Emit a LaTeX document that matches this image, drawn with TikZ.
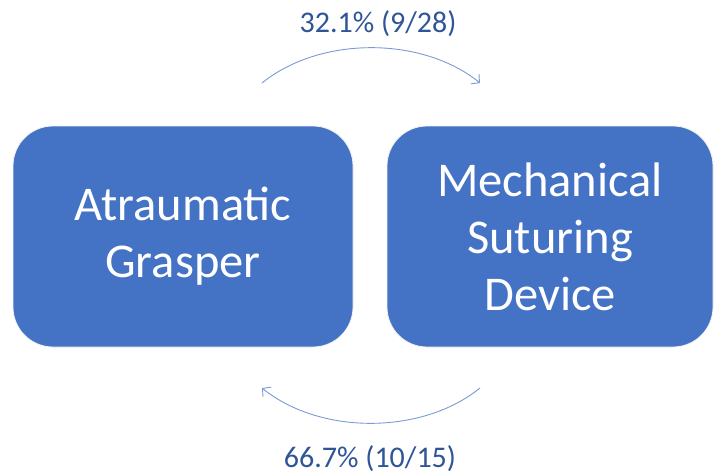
\documentclass[tikz,border=0pt]{standalone}
\usepackage{fontspec}
\setmainfont{Carlito}
\usetikzlibrary{arrows.meta}
\definecolor{boxblue}{HTML}{4472C4}
\definecolor{labelblue}{HTML}{2F5597}
\definecolor{arcblue}{HTML}{7A9AD6}
\begin{document}
\begin{tikzpicture}[x=1pt,y=-1pt,
  toolbox/.style={rectangle, rounded corners=40pt, fill=boxblue, draw=white!90!gray,
    line width=0.8pt, inner sep=0pt, text=white, align=center,
    font=\fontsize{48.5}{57}\selectfont},
  ratelabel/.style={anchor=base, text=labelblue, inner sep=0pt,
    font=\fontsize{30}{36}\selectfont},
  transition/.style={draw=arcblue, line width=0.9pt,
    -{Straight Barb[length=6pt,width=13pt,line width=0.9pt]}}]
  \useasboundingbox (0,0) rectangle (715,474);
  % the two instruments
  \node[toolbox, minimum width=340pt, minimum height=221pt] (grasper) at (183,236.5)
    {Atraumatic\\Grasper};
  \node[toolbox, minimum width=326pt, minimum height=221pt] (suture) at (550,236.5)
    {Mechanical\\Suturing\\Device};
  % end points of the switching arcs
  \coordinate (topL) at (262,83);
  \coordinate (topR) at (480,83);
  \coordinate (botR) at (480,388);
  \coordinate (botL) at (262,388);
  \draw[transition] (topL) .. controls (320,36) and (422,36) .. (topR);
  \draw[transition] (botR) .. controls (422,435) and (320,435) .. (botL);
  % switching rates
  \node[ratelabel] (uprate) at (378,32) {32.1\% (9/28)};
  \node[ratelabel] (downrate) at (370,467) {66.7\% (10/15)};
\end{tikzpicture}
\end{document}
